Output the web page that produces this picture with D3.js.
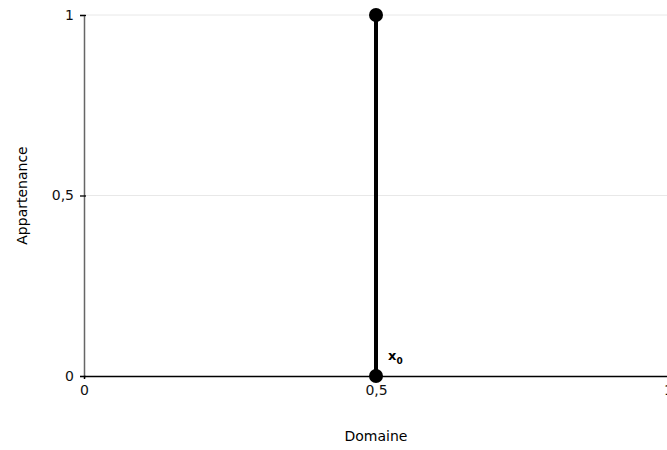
<!DOCTYPE html>
<html><head><meta charset="utf-8">
<script src="https://cdn.jsdelivr.net/npm/d3@7"></script>
<style>
body{margin:0;background:#fff;}
text{font-family:"DejaVu Sans",sans-serif;}
</style></head>
<body><svg id="c" width="667" height="450"></svg>
<script>
const xTicks = [0, 0.5, 1];
const yTicks = [0, 0.5, 1];
const segX = [0.5, 0.5];
const segY = [0, 1];
const pointLabel = "x";
const pointSub = "0";
const xTitle = "Domaine";
const yTitle = "Appartenance";
const fmt = d => String(d).replace(".", ",");

const svg = d3.select("#c");
const m = {l:84, t:15, r:-1, b:74};
const W = 667, H = 450;
const x = d3.scaleLinear().domain([0,1]).range([m.l, W - m.r]);
const y = d3.scaleLinear().domain([0,1]).range([H - m.b, m.t]);

// gridlines
svg.append("g").selectAll("line").data(yTicks.filter(d=>d>0)).join("line")
  .attr("x1", x(0)).attr("x2", x(1)).attr("y1", d=>y(d)).attr("y2", d=>y(d))
  .attr("stroke", "#e8e8e8").attr("stroke-width", 1);

// y axis
const ya = svg.append("g").attr("transform", `translate(${x(0)},0)`)
  .call(d3.axisLeft(y).tickValues(yTicks).tickFormat(fmt).tickSize(4).tickPadding(6));
ya.select(".domain").attr("stroke", "#666").attr("stroke-width", 1.5);
ya.selectAll(".tick line").attr("x2", 2).attr("x1", -4).attr("stroke", "#000").attr("stroke-width",1.3);
ya.selectAll("text").attr("font-size", 14).attr("fill", "#111");

// x axis
const xa = svg.append("g").attr("transform", `translate(0,${y(0)})`)
  .call(d3.axisBottom(x).tickValues(xTicks).tickFormat(fmt).tickSize(3).tickPadding(6));
xa.select(".domain").attr("stroke", "#000").attr("stroke-width", 1.5);
xa.selectAll("text").attr("font-size", 14).attr("fill", "#111");

// titles
svg.append("text").attr("x", x(0.5)).attr("y", 441).attr("text-anchor","middle")
  .attr("font-size", 14).text(xTitle);
svg.append("text").attr("transform", `translate(27,${y(0.5)}) rotate(-90)`).attr("text-anchor","middle")
  .attr("font-size", 14).text(yTitle);

// segment
svg.append("line").attr("x1", x(segX[0])).attr("x2", x(segX[1]))
  .attr("y1", y(segY[0])).attr("y2", y(segY[1]))
  .attr("stroke", "#000").attr("stroke-width", 4);
svg.append("g").selectAll("circle").data(segY.map((v,i)=>[segX[i], v])).join("circle")
  .attr("cx", d=>x(d[0])).attr("cy", d=>y(d[1])).attr("r", 7).attr("fill", "#000");

// label
const t = svg.append("text").attr("x", x(0.5) + 12).attr("y", y(0) - 16)
  .attr("font-size", 13).attr("font-weight", "bold");
t.append("tspan").text(pointLabel);
t.append("tspan").attr("font-size", 9).attr("dy", 4).text(pointSub);
</script></body></html>
